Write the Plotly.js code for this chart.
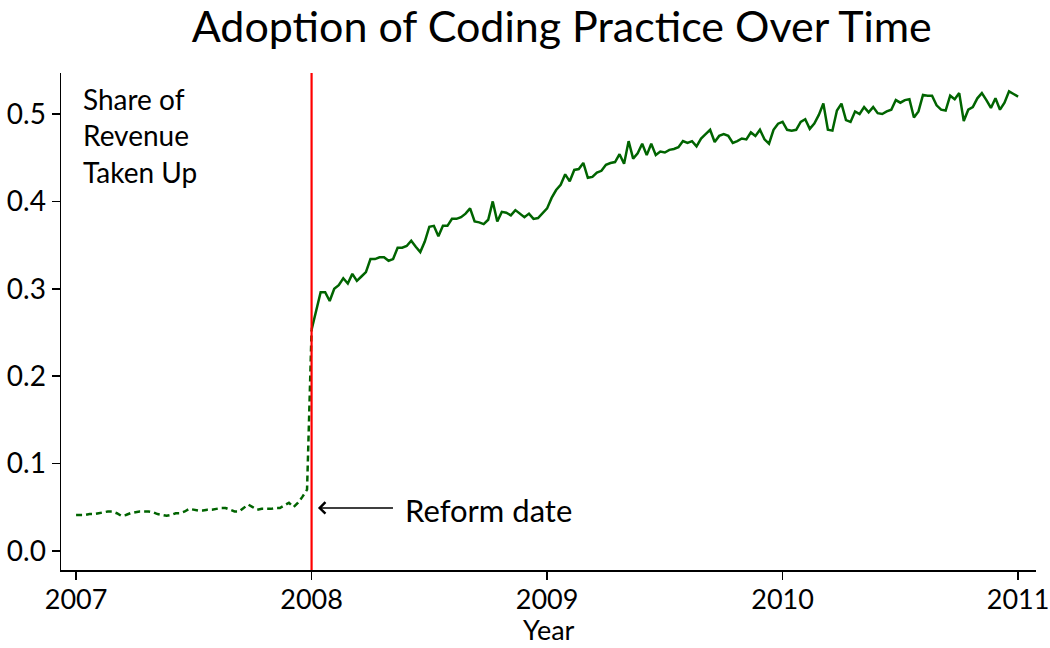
<!DOCTYPE html>
<html>
<head>
<meta charset="utf-8">
<script src="https://cdn.plot.ly/plotly-3.0.1.min.js"></script>
<style>html,body{margin:0;padding:0;background:#fff;}#chart{width:1050px;height:648px;}</style>
</head>
<body>
<div id="chart"></div>
<script>
// Weekly share of revenue taken up, 2007 (pre-reform, dashed)
const preStartYear = 2007;
const preValues = [
  0.041, 0.041, 0.041, 0.042, 0.042, 0.043, 0.044, 0.045, 0.045, 0.043,
  0.040, 0.041, 0.043, 0.044, 0.045, 0.045, 0.045, 0.044, 0.042, 0.041,
  0.040, 0.041, 0.043, 0.043, 0.045, 0.048, 0.047, 0.046, 0.046, 0.047,
  0.047, 0.048, 0.049, 0.049, 0.047, 0.045, 0.045, 0.049, 0.053, 0.050,
  0.047, 0.048, 0.048, 0.048, 0.049, 0.049, 0.052, 0.055, 0.050, 0.055,
  0.062, 0.070
];
// Weekly share after the reform, 2008-2010 (solid)
const postStartYear = 2008;
const postValues = [
  0.253, 0.274, 0.296, 0.296, 0.286, 0.300, 0.304, 0.312, 0.306, 0.317,
  0.309, 0.314, 0.319, 0.334, 0.334, 0.336, 0.336, 0.332, 0.334, 0.347,
  0.347, 0.349, 0.355, 0.348, 0.342, 0.354, 0.371, 0.372, 0.360, 0.372,
  0.372, 0.380, 0.380, 0.382, 0.386, 0.392, 0.377, 0.376, 0.374, 0.379,
  0.400, 0.377, 0.388, 0.387, 0.384, 0.390, 0.386, 0.382, 0.386, 0.380,
  0.381, 0.386, 0.392, 0.404, 0.413, 0.419, 0.431, 0.423, 0.436, 0.437,
  0.444, 0.427, 0.428, 0.433, 0.435, 0.442, 0.444, 0.445, 0.454, 0.443,
  0.469, 0.449, 0.455, 0.466, 0.453, 0.466, 0.453, 0.457, 0.456, 0.459,
  0.460, 0.462, 0.469, 0.467, 0.469, 0.463, 0.472, 0.477, 0.482, 0.468,
  0.475, 0.477, 0.475, 0.467, 0.469, 0.472, 0.471, 0.479, 0.475, 0.482,
  0.471, 0.466, 0.482, 0.489, 0.491, 0.482, 0.481, 0.482, 0.491, 0.494,
  0.483, 0.489, 0.499, 0.512, 0.482, 0.481, 0.504, 0.512, 0.493, 0.491,
  0.503, 0.500, 0.508, 0.502, 0.508, 0.501, 0.500, 0.503, 0.505, 0.516,
  0.513, 0.516, 0.517, 0.496, 0.503, 0.522, 0.521, 0.521, 0.510, 0.505,
  0.504, 0.521, 0.517, 0.524, 0.492, 0.505, 0.508, 0.518, 0.524, 0.516,
  0.507, 0.518, 0.505, 0.513, 0.526, 0.523, 0.520
];
const reformYear = 2008;
const xTickVals = [2007, 2008, 2009, 2010, 2011];
const yTickVals = [0.0, 0.1, 0.2, 0.3, 0.4, 0.5];
const panelLabelLines = ['Share of', 'Revenue', 'Taken Up'];

const preX = preValues.map((_, i) => preStartYear + i / 52);
const postX = postValues.map((_, i) => postStartYear + i / 52);
// dashed trace joins the first post-reform week
const preXJoined = preX.concat([postX[0]]);
const preYJoined = preValues.concat([postValues[0]]);

const FONT = 'Lato, "DejaVu Sans", sans-serif';
const green = '#006400';

const traces = [
  {x: preXJoined, y: preYJoined, type: 'scatter', mode: 'lines',
   line: {color: green, width: 2.5, dash: '6px,4px'}, hoverinfo: 'skip', showlegend: false},
  {x: postX, y: postValues, type: 'scatter', mode: 'lines',
   line: {color: green, width: 2.5}, hoverinfo: 'skip', showlegend: false}
];

const annotations = [
  {xref: 'paper', yref: 'paper', x: 0.0205, y: 0.985, xanchor: 'left', yanchor: 'top',
   align: 'left', showarrow: false, text: panelLabelLines.join('<br>'),
   font: {size: 28, family: FONT, color: '#000'}},
  {xref: 'x', yref: 'y', x: 2008.027, y: 0.049, ax: 2008.352, ay: 0.049,
   axref: 'x', ayref: 'y', text: '', showarrow: true, arrowhead: 4, arrowsize: 1.3,
   arrowwidth: 1.7, arrowcolor: '#000'},
  {xref: 'x', yref: 'y', x: 2008.39, y: 0.047, xanchor: 'left', yanchor: 'middle',
   showarrow: false, text: 'Reform date', font: {size: 31, family: FONT, color: '#000'}},
  {xref: 'paper', yref: 'paper', x: 0.5, y: -0.1575, xanchor: 'center', yanchor: 'bottom',
   showarrow: false, text: 'Year', font: {size: 27, family: FONT, color: '#000'}}
];

const layout = {
  width: 1050, height: 648,
  paper_bgcolor: '#fff', plot_bgcolor: '#fff',
  margin: {l: 61, r: 14, t: 73, b: 78},
  font: {family: FONT, color: '#000', size: 27},
  title: {text: 'Adoption of Coding Practice Over Time', x: 0.535, xanchor: 'center',
          y: 0.958, yanchor: 'middle', font: {family: FONT, size: 43, color: '#000'}},
  xaxis: {range: [2006.936, 2011.076], tickvals: xTickVals, ticktext: xTickVals.map(String),
          ticks: 'outside', ticklen: 8, tickwidth: 1.5, tickcolor: '#000', ticklabeloverflow: 'allow',
          ticklabelstandoff: -3,
          showline: true, linecolor: '#000', linewidth: 1.5, showgrid: false, zeroline: false,
          tickfont: {size: 27}},
  yaxis: {range: [-0.022, 0.547], tickvals: yTickVals, tickformat: '.1f',
          ticks: 'outside', ticklen: 8, tickwidth: 1.5, tickcolor: '#000',
          showline: true, linecolor: '#000', linewidth: 1.5, showgrid: false, zeroline: false,
          tickfont: {size: 28}},
  shapes: [
    {type: 'line', xref: 'x', yref: 'paper', x0: reformYear, x1: reformYear, y0: 0, y1: 1,
     line: {color: '#ff0000', width: 2.2}, layer: 'above'}
  ],
  annotations: annotations
};

Plotly.newPlot('chart', traces, layout, {staticPlot: true, displayModeBar: false});
</script>
</body>
</html>
